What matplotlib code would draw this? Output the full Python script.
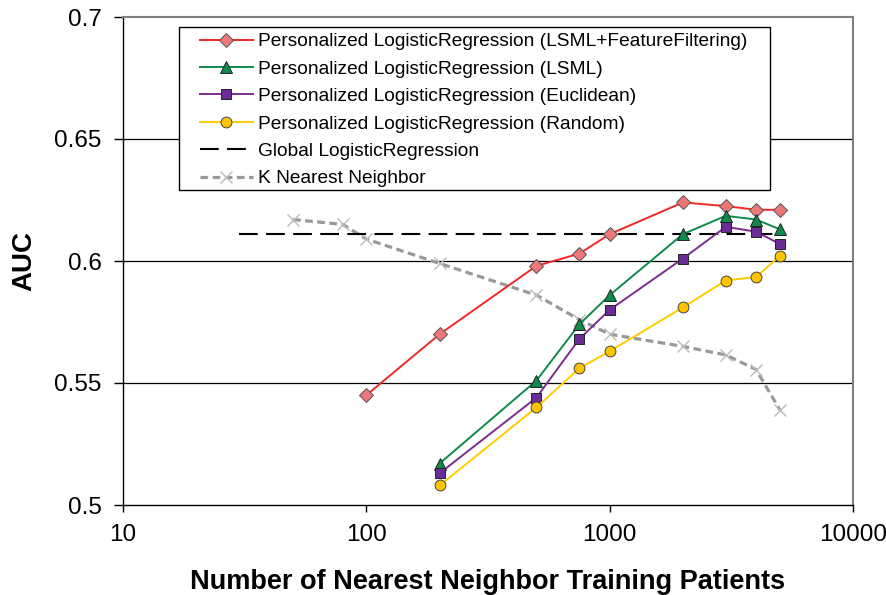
import matplotlib
matplotlib.use("Agg")
import matplotlib.pyplot as plt
from matplotlib.patches import Rectangle
from matplotlib.ticker import FixedLocator, FixedFormatter, NullLocator

plt.rcParams['font.family'] = ['Liberation Sans', 'DejaVu Sans']

# ---- data ----
x_ff = [100, 200, 500, 750, 1000, 2000, 3000, 4000, 5000]
y_ff = [0.545, 0.570, 0.598, 0.603, 0.611, 0.624, 0.6225, 0.621, 0.621]

x_p = [200, 500, 750, 1000, 2000, 3000, 4000, 5000]
y_lsml = [0.517, 0.551, 0.574, 0.586, 0.611, 0.6185, 0.617, 0.613]
y_eucl = [0.513, 0.544, 0.568, 0.580, 0.601, 0.614, 0.612, 0.607]
y_rand = [0.508, 0.540, 0.556, 0.563, 0.581, 0.592, 0.5935, 0.602]

x_glob = [30, 5000]
y_glob = [0.611, 0.611]

x_knn = [50, 80, 100, 200, 500, 750, 1000, 2000, 3000, 4000, 5000]
y_knn = [0.617, 0.615, 0.609, 0.599, 0.586, 0.576, 0.570, 0.565, 0.5615, 0.5555, 0.539]

labels = [
    "Personalized LogisticRegression (LSML+FeatureFiltering)",
    "Personalized LogisticRegression (LSML)",
    "Personalized LogisticRegression (Euclidean)",
    "Personalized LogisticRegression (Random)",
    "Global LogisticRegression",
    "K Nearest Neighbor",
]
x_ticks = [10, 100, 1000, 10000]
x_ticklabels = ["10", "100", "1000", "10000"]
y_ticks = [0.5, 0.55, 0.6, 0.65, 0.7]
y_ticklabels = ["0.5", "0.55", "0.6", "0.65", "0.7"]

W, H = 886, 595
fig = plt.figure(figsize=(W / 100, H / 100), dpi=100)
ax = fig.add_axes([123 / W, (H - 505) / H, (853 - 123) / W, (505 - 17) / H])

ax.set_xscale('log')
ax.set_xlim(10, 10000)
ax.set_ylim(0.5, 0.7)

for yv in y_ticks[1:-1]:
    ax.axhline(yv, color='black', lw=0.9, zorder=1)

ax.plot(x_ff, y_ff, color='#F02828', lw=1.4, marker='D', ms=6.8,
        mfc='#EE7777', mec='#555555', mew=0.7, label=labels[0], zorder=5)
ax.plot(x_p, y_lsml, color='#0E8A4C', lw=1.4, marker='^', ms=8.5,
        mfc='#0E8A4C', mec='#222222', mew=0.7, label=labels[1], zorder=5)
ax.plot(x_p, y_eucl, color='#7B2D8E', lw=1.4, marker='s', ms=7.8,
        mfc='#6A2D96', mec='#222222', mew=0.7, label=labels[2], zorder=5)
ax.plot(x_p, y_rand, color='#FFCC00', lw=1.4, marker='o', ms=7.8,
        mfc='#FFC400', mec='#444444', mew=0.7, label=labels[3], zorder=5)
ax.plot(x_glob, y_glob, color='black', lw=1.5, dashes=(9, 4),
        label=labels[4], zorder=4)
ax.plot(x_knn, y_knn, color='#999999', lw=2.3, dashes=(2.4, 1.4),
        marker='x', ms=8.5, mec='#BBBBBB', mew=1.0, label=labels[5], zorder=3)

ax.xaxis.set_major_locator(FixedLocator(x_ticks))
ax.xaxis.set_major_formatter(FixedFormatter(x_ticklabels))
ax.xaxis.set_minor_locator(NullLocator())
ax.yaxis.set_major_locator(FixedLocator(y_ticks))
ax.yaxis.set_major_formatter(FixedFormatter(y_ticklabels))

ax.tick_params(axis='x', direction='out', length=5, width=1, labelsize=17.5, pad=9, colors='black')
ax.tick_params(axis='y', direction='out', length=6.5, width=1, labelsize=17.5, pad=9, colors='black')

for s in ['top', 'right']:
    ax.spines[s].set_color('#808080')
    ax.spines[s].set_linewidth(1.5)
for s in ['left', 'bottom']:
    ax.spines[s].set_color('black')
    ax.spines[s].set_linewidth(1.0)

ax.set_xlabel("Number of Nearest Neighbor Training Patients",
              fontweight='bold', fontsize=19.5, labelpad=16)
ax.set_ylabel("AUC", fontweight='bold', fontsize=20, labelpad=12)

box = Rectangle((179 / W, 1 - 190 / H), (770 - 179) / W, (190 - 27) / H,
                transform=fig.transFigure, facecolor='white',
                edgecolor='black', lw=1.0, zorder=9, clip_on=False)
ax.add_patch(box)

leg = ax.legend(loc='upper left', bbox_to_anchor=(200 / W, 1 - 33 / H),
                bbox_transform=fig.transFigure, borderaxespad=0,
                fontsize=13.8, frameon=False, handlelength=2.76,
                handletextpad=0.26, labelspacing=0.52, borderpad=0)
leg.set_zorder(10)

fig.savefig("out.png", dpi=100)
